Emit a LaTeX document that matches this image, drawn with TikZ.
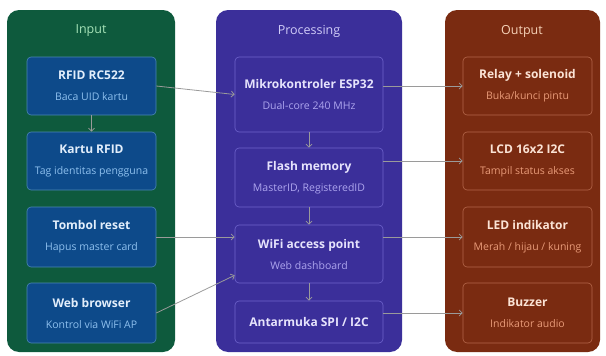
\documentclass[tikz,border=0pt]{standalone}
\usepackage{fontspec}
\setmainfont{Open Sans}
\usetikzlibrary{arrows.meta}

\definecolor{inbg}{HTML}{0E5A3D}
\definecolor{inbox}{HTML}{0D4A8A}
\definecolor{inline}{HTML}{4B86B4}
\definecolor{inhead}{HTML}{A6E3B8}
\definecolor{intitle}{HTML}{E2EEFB}
\definecolor{insub}{HTML}{8EC0EE}
\definecolor{procbg}{HTML}{3B2F9A}
\definecolor{procline}{HTML}{6E63CC}
\definecolor{prochead}{HTML}{D0CCF8}
\definecolor{proctitle}{HTML}{E6E3FC}
\definecolor{procsub}{HTML}{ADA5EE}
\definecolor{outbg}{HTML}{7A2B11}
\definecolor{outline}{HTML}{B4664A}
\definecolor{outhead}{HTML}{F6D2B8}
\definecolor{outtitle}{HTML}{FBE3D5}
\definecolor{outsub}{HTML}{E89A78}
\definecolor{wire}{HTML}{9A9A9A}

% small second line inside a box
\newcommand{\sublabel}[2]{{\fontsize{10.5}{13}\selectfont\mdseries\color{#1}#2}}

\begin{document}
\begin{tikzpicture}[x=1pt,y=-1pt,
    panel/.style={rounded corners=12pt},
    head/.style={font=\fontsize{12.5}{15}\selectfont},
    unit/.style={draw, rounded corners=4pt, line width=0.6pt, align=center,
        minimum height=58pt, inner sep=2pt,
        font=\fontsize{12}{21}\selectfont\bfseries},
    inunit/.style={unit, fill=inbox, draw=inline, text=intitle, minimum width=129pt},
    procunit/.style={unit, fill=procbg, draw=procline, text=proctitle, minimum width=148pt},
    outunit/.style={unit, fill=outbg, draw=outline, text=outtitle, minimum width=129pt},
    link/.style={draw=wire, line width=0.8pt, -{Straight Barb[length=3pt,width=6pt]}}
]
\useasboundingbox (0,0) rectangle (606,356);

% Panels
\fill[panel, inbg] (7,10) rectangle (175,352);
\fill[panel, procbg] (216,10) rectangle (402,352);
\fill[panel, outbg] (445,10) rectangle (600,352);
\node[head, text=inhead] (inhd) at (91,31) {Input};
\node[head, text=prochead] (prochd) at (309,31) {Processing};
\node[head, text=outhead] (outhd) at (522,31) {Output};

% Input
\node[inunit] (rfid) at (91.5,86) {RFID RC522\\\sublabel{insub}{Baca UID kartu}};
\node[inunit] (kartu) at (91.5,161) {Kartu RFID\\\sublabel{insub}{Tag identitas pengguna}};
\node[inunit, minimum height=60pt] (tombol) at (91.5,237) {Tombol reset\\\sublabel{insub}{Hapus master card}};
\node[inunit, minimum height=60pt] (web) at (91.5,313) {Web browser\\\sublabel{insub}{Kontrol via WiFi AP}};

% Processing
\node[procunit, minimum height=75pt] (esp) at (309,94.5) {Mikrokontroler ESP32\\\sublabel{procsub}{Dual-core 240 MHz}};
\node[procunit, minimum height=59pt] (flash) at (309,177.5) {Flash memory\\\sublabel{procsub}{MasterID, RegisteredID}};
\node[procunit] (wifi) at (309,254) {WiFi access point\\\sublabel{procsub}{Web dashboard}};
\node[procunit, minimum height=42pt] (spi) at (309,322) {Antarmuka SPI / I2C};

% Output
\node[outunit] (relay) at (527.5,86) {Relay + solenoid\\\sublabel{outsub}{Buka/kunci pintu}};
\node[outunit] (lcd) at (527.5,161) {LCD 16x2 I2C\\\sublabel{outsub}{Tampil status akses}};
\node[outunit, minimum height=60pt] (led) at (527.5,237) {LED indikator\\\sublabel{outsub}{Merah / hijau / kuning}};
\node[outunit, minimum height=60pt] (buzz) at (527.5,313) {Buzzer\\\sublabel{outsub}{Indikator audio}};

% Connections
\draw[link] (rfid) -- (kartu);
\draw[link] (rfid.east) -- (esp.west);
\draw[link] (tombol.east) -- (tombol.east -| wifi.west);
\draw[link] (web.east) -- ([yshift=8pt]wifi.south west);
\draw[link] (esp) -- (flash);
\draw[link] (flash) -- (wifi);
\draw[link] (wifi) -- (spi);
\draw[link] (relay.west -| esp.east) -- (relay.west);
\draw[link] (lcd.west -| flash.east) -- (lcd.west);
\draw[link] (led.west -| wifi.east) -- (led.west);
\draw[link] (buzz.west -| spi.east) -- (buzz.west);

\end{tikzpicture}
\end{document}
